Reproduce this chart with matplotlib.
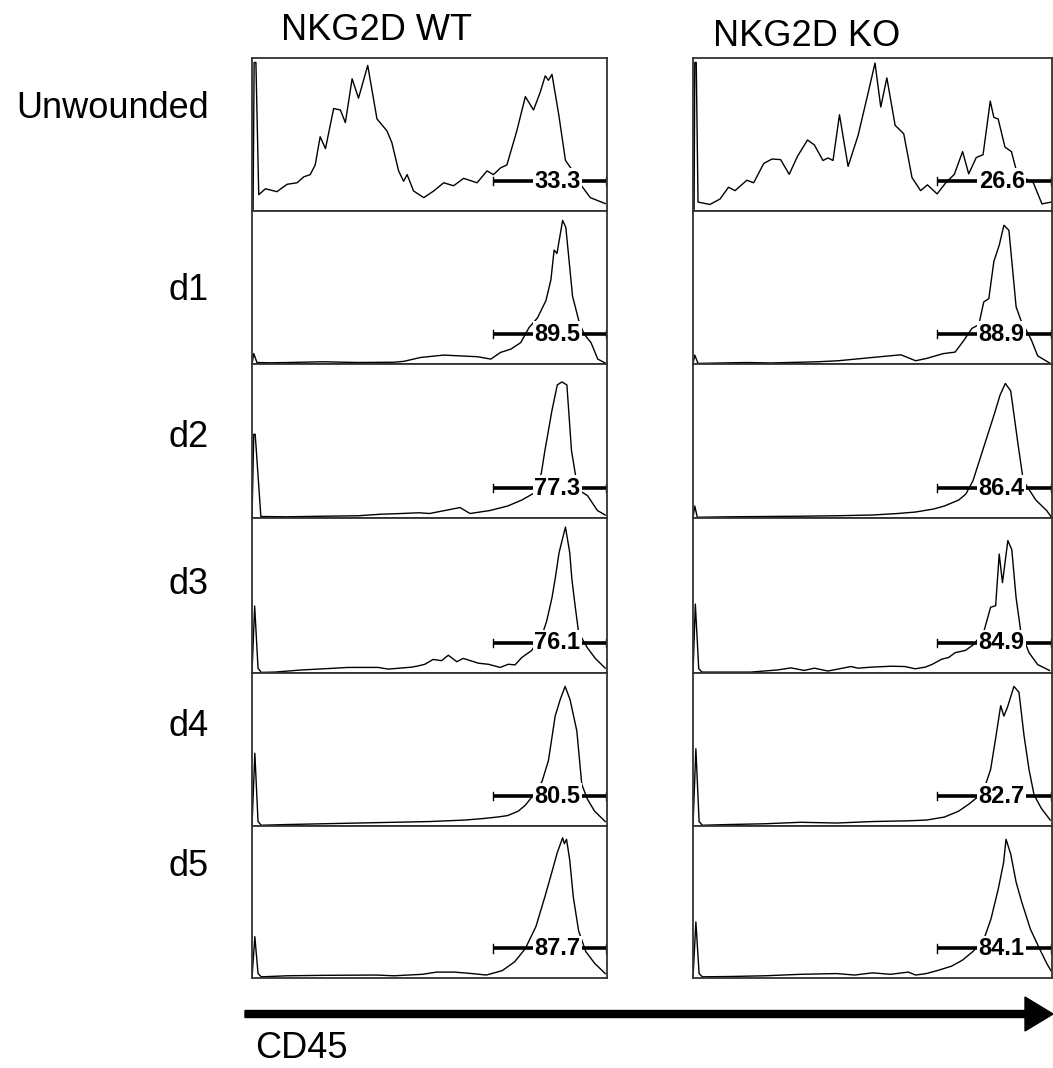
import matplotlib
matplotlib.use("Agg")
import matplotlib.pyplot as plt
from matplotlib.patches import FancyArrow

plt.rcParams['font.family'] = ['Liberation Sans', 'DejaVu Sans']

# histogram traces: x = % of CD45 axis, y = % of panel height
wt_unw_x = [0.3, 0.6, 1.1, 1.9, 3.8, 7.0, 9.9, 12.7, 14.6, 16.4, 17.8, 19.2, 20.7, 23.0, 24.9, 26.3, 28.2, 30.0,
            32.6, 35.2, 38.0, 39.4, 41.3, 42.7, 43.7, 45.5, 48.4, 51.2, 54.0, 56.8, 59.6, 63.4, 66.2, 68.0, 70.0,
            71.8, 74.6, 77.0, 79.3, 81.2, 82.6, 83.5, 84.5, 86.4, 88.3, 90.1, 92.5, 95.3, 99.5]
wt_unw_y = [0, 100, 100, 11, 15, 13, 18, 19, 23, 24.5, 31, 50, 42, 69, 68, 59.5, 89, 76,
            98, 62, 54, 46, 27, 20, 24.5, 13.5, 9, 13.5, 19, 17, 22, 19, 27, 24.5, 29,
            31, 54, 77, 68, 80, 91, 88, 92, 65, 34, 28, 18, 9, 5]

ko_unw_x = [0.3, 0.5, 0.9, 1.4, 4.7, 7.5, 9.9, 11.7, 15.0, 16.9, 19.7, 22.0, 24.4, 26.8, 29.1, 31.9, 33.8, 36.2,
            37.6, 39.0, 40.8, 43.2, 46.0, 48.8, 50.7, 52.3, 54.0, 56.3, 58.7, 61.0, 63.4, 65.3, 68.0, 70.4, 72.8,
            75.1, 76.8, 78.9, 80.8, 82.8, 83.8, 85.0, 86.9, 88.7, 90.1, 92.5, 94.8, 97.2, 99.8]
ko_unw_y = [0, 100, 100, 6, 4.4, 8, 16, 13.7, 20.7, 19, 32, 35, 34.6, 24.7, 36.8, 47.8, 44.5, 34,
            35.7, 34, 64.8, 30, 51, 79.7, 99.6, 70, 89.6, 57.7, 52, 22.5, 13.7, 17.6, 11.5, 19, 24.7,
            40, 25, 36, 37.9, 74, 63, 62, 43, 40, 27, 22, 19, 4.8, 6]

wt_d1_x = [0, 0.5, 1.4, 5, 10, 20, 30, 40, 42.8, 47.5, 54, 63.5, 67.3, 70, 72.9, 75.7, 78, 80.4, 82.8, 84.2,
           85.1, 85.9, 87.5, 88.4, 90.3, 92.2, 93.6, 95.5, 97.4, 99.7]
wt_d1_y = [0, 7, 1, 0.8, 1, 1.5, 1, 1.2, 1.8, 4.4, 6, 4.9, 3.3, 7.8, 10, 14.4, 24.4, 31, 42.7, 56.7,
           76.7, 74.4, 96.7, 92, 45.6, 27.8, 20, 14.4, 3.3, 0.4]

ko_d1_x = [0, 0.5, 1.4, 15, 21.7, 34.8, 40.5, 50, 57.9, 62, 65, 69.7, 73, 75.3, 77.7, 79.6, 81, 82.4, 83.8,
           85.3, 86.6, 88, 90, 91.3, 94.2, 96, 99.8]
ko_d1_y = [0, 6, 0.4, 1, 0.7, 1.5, 2.2, 4.4, 6.2, 2.2, 3.7, 7, 8, 15.4, 24, 26.4, 41.8, 44, 69,
           80, 93.4, 90, 38.5, 29.7, 16.5, 5.5, 0]

wt_d2_x = [0, 0.5, 0.9, 2.5, 10, 20, 30, 36, 42, 47, 50, 58.6, 61.4, 67, 72, 76, 79.7, 81.5, 82.5, 84.5,
           86, 87.3, 88.7, 90, 91.8, 94.5, 97.3, 99.5]
wt_d2_y = [0, 56, 56, 1, 0.8, 1.2, 1.5, 2.5, 3, 3.5, 3, 7, 3, 5, 8, 12, 17, 30, 45, 72,
           89, 91, 89, 45, 19, 15, 5, 2]

ko_d2_x = [0, 0.5, 1.2, 10, 20, 30, 40, 50, 57, 62, 67, 70, 74, 76, 78, 80, 82, 84, 85.5, 87, 88.5,
           90.5, 92, 95.5, 98.5, 99.7]
ko_d2_y = [0, 8, 0.5, 0.8, 1, 1.2, 1.5, 2, 3, 4, 6, 8, 12, 16, 25, 40, 55, 70, 82, 90, 85,
           50, 25, 12, 5, 1]

wt_d3_x = [0, 0.75, 1.7, 2.6, 6.4, 13.9, 23.3, 27, 35.5, 38.4, 45, 46.8, 48.7, 51, 53.4, 55.3, 57.7, 59.5,
           63.8, 66.6, 69.9, 72.2, 74.1, 76, 78.8, 82.1, 83, 84.5, 85.4, 86.5, 88.3, 89.5, 90.1, 91, 92, 94.4,
           96.7, 99.5]
wt_d3_y = [0, 44.5, 3.2, 0.4, 0.6, 2, 3.2, 3.7, 3.7, 2.6, 3.9, 4.7, 5.8, 9, 8.2, 11.8, 7.5, 9.7,
           6.5, 5.8, 3.7, 5.8, 5.4, 10.3, 15, 28, 34.4, 50, 62.6, 80, 97, 80, 62.6, 45, 27, 17,
           9.7, 3.2]

ko_d3_x = [0, 0.65, 1.6, 2.5, 16, 23.5, 27.3, 31, 33.8, 37.6, 44, 46, 49.7, 55.3, 59, 61.9, 64.7, 66.5,
           69.3, 71.2, 73, 75.9, 78.2, 81, 82.9, 84.3, 84.8, 85.3, 86.2, 87.7, 88.8, 90, 91.3, 93.6, 96, 99.3]
ko_d3_y = [0, 45.8, 2.8, 0.6, 0.6, 2, 3.4, 1.7, 3.2, 1.3, 4.3, 3.2, 3.9, 4.5, 4.3, 2.8, 3.9, 5.6,
           9.2, 10.3, 13.5, 15, 19, 27.5, 43.7, 44.7, 62, 79, 60, 88, 82, 50, 27.5, 13.5, 5.6, 1.7]

wt_d4_x = [0, 0.8, 1.7, 2.6, 10, 20, 30, 40, 50, 55, 60, 65, 69, 72, 75, 77, 79, 81.7, 83.5, 85.4, 86.8,
           88.2, 89.6, 91.5, 92.9, 94.5, 96.5, 99.5]
wt_d4_y = [0, 49, 3, 0.5, 1, 1.5, 2, 2.5, 3, 3.5, 4, 5, 6, 7, 10, 14, 20, 30, 44, 74, 85,
           94, 85, 64, 28, 18, 10, 3]

ko_d4_x = [0, 0.8, 1.7, 2.6, 10, 20, 30, 40, 50, 60, 65, 70, 74, 77, 79.5, 81.5, 82.9, 84.3, 85.7, 86.6,
           87.6, 89.4, 90.8, 92.2, 93.6, 95, 97, 99.5]
ko_d4_y = [0, 52, 3, 0.5, 1, 1.5, 2.5, 2, 3, 3.5, 4, 6, 10, 15, 20, 28, 38, 59, 81, 74,
           80, 94, 90, 61, 38, 21, 12, 4]

wt_d5_x = [0, 0.8, 1.7, 2.6, 10, 20, 35, 40, 48, 52, 57, 62, 66, 70.5, 74, 77, 80, 82.5, 84.5, 86, 87.5,
           88, 88.6, 89.5, 90.5, 92, 94, 96.5, 99.5]
wt_d5_y = [0, 28, 3, 0.8, 1.5, 1.8, 2, 1.5, 2.5, 4, 4, 3, 2, 5, 11, 20, 35, 55, 72, 85, 95,
           91, 94, 80, 55, 32, 18, 10, 3]

ko_d5_x = [0, 0.8, 1.7, 2.6, 10, 20, 30, 40, 45, 50, 55, 60, 62, 65, 68, 72, 75, 78, 81, 83, 85, 86.5,
           87.2, 88.5, 90, 91.5, 94, 96.5, 98.5, 99.7]
ko_d5_y = [0, 38, 3, 0.8, 1, 1.5, 2.5, 3, 2, 3.5, 2.5, 4, 2, 3, 5, 8, 12, 18, 26, 40, 60, 78,
           94, 84, 65, 52, 33, 20, 10, 5]

row_labels = ["Unwounded", "d1", "d2", "d3", "d4", "d5"]
col_titles = ["NKG2D WT", "NKG2D KO"]
wt_gate_pct = ["33.3", "89.5", "77.3", "76.1", "80.5", "87.7"]
ko_gate_pct = ["26.6", "88.9", "86.4", "84.9", "82.7", "84.1"]

wt_traces = [(wt_unw_x, wt_unw_y), (wt_d1_x, wt_d1_y), (wt_d2_x, wt_d2_y),
             (wt_d3_x, wt_d3_y), (wt_d4_x, wt_d4_y), (wt_d5_x, wt_d5_y)]
ko_traces = [(ko_unw_x, ko_unw_y), (ko_d1_x, ko_d1_y), (ko_d2_x, ko_d2_y),
             (ko_d3_x, ko_d3_y), (ko_d4_x, ko_d4_y), (ko_d5_x, ko_d5_y)]

W, H = 1053, 1068
fig = plt.figure(figsize=(W / 100, H / 100), dpi=100)

# layout in pixels
row_edges = [58, 211, 364, 518, 673, 826, 978]
col_edges = [(252, 607), (693, 1052)]
label_y = [108, 290, 437, 584, 726, 866]


def px_axes(x0, x1, y0, y1):
    return fig.add_axes([x0 / W, 1 - y1 / H, (x1 - x0) / W, (y1 - y0) / H])


for c, (traces, pcts) in enumerate([(wt_traces, wt_gate_pct), (ko_traces, ko_gate_pct)]):
    x0, x1 = col_edges[c]
    for r in range(6):
        ax = px_axes(x0, x1, row_edges[r], row_edges[r + 1])
        xs, ys = traces[r]
        ax.plot(xs, ys, color="black", lw=1.0, zorder=1)
        # gate bar
        gy = 20
        ax.plot([68, 99.6], [gy, gy], color="black", lw=2.6, solid_capstyle="butt", zorder=2)
        for gx in (68, 99.6):
            ax.plot([gx, gx], [gy - 2.8, gy + 2.8], color="black", lw=1.0, zorder=2)
        ax.text(86, gy, pcts[r], ha="center", va="center", fontsize=17, fontweight="bold", zorder=3,
                bbox=dict(facecolor="white", edgecolor="none", pad=1.0))
        ax.set_xlim(0, 100)
        ax.set_ylim(0, 103)
        ax.set_xticks([])
        ax.set_yticks([])
        for s in ax.spines.values():
            s.set_color("#333333")
            s.set_linewidth(1.3)

# text and arrow
fig.text(281 / W, 1 - 30 / H, col_titles[0], fontsize=26, ha="left", va="center")
fig.text(713 / W, 1 - 36 / H, col_titles[1], fontsize=26, ha="left", va="center")
for r in range(6):
    fig.text(209 / W, 1 - label_y[r] / H, row_labels[r], fontsize=26, ha="right", va="center")

bg = fig.add_axes([0, 0, 1, 1], zorder=-1)
bg.set_xlim(0, W)
bg.set_ylim(H, 0)
bg.axis("off")
bg.add_patch(FancyArrow(245, 1014, W - 245, 0, width=7, head_width=34, head_length=28,
                        length_includes_head=True, color="black"))
bg.text(255, 1048, "CD45", fontsize=26, ha="left", va="center")

fig.savefig("out.png", dpi=100)
